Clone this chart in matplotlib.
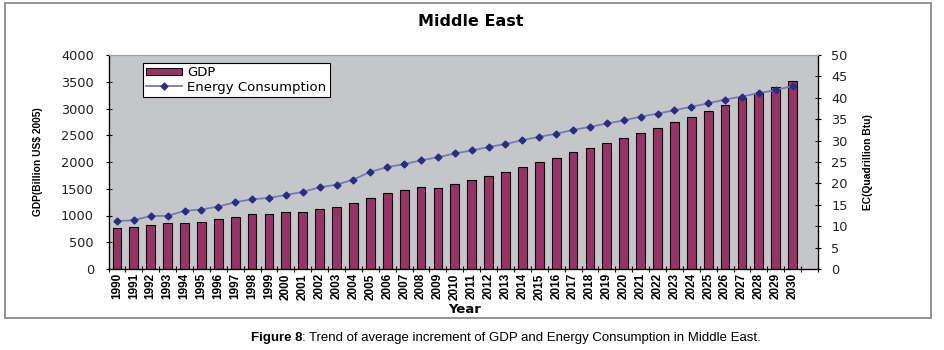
import matplotlib
matplotlib.use("Agg")
import matplotlib.pyplot as plt
from matplotlib.patches import Rectangle
import numpy as np

plt.rcParams['font.family'] = ['DejaVu Sans']
narrow = ['Liberation Sans Narrow', 'Liberation Sans', 'DejaVu Sans']

years = list(range(1990, 2031))
gdp = [772, 790, 816, 866, 854, 885, 941, 978, 1034, 1034,
       1072, 1072, 1128, 1165, 1240, 1333, 1427, 1477, 1539, 1520,
       1595, 1664, 1745, 1820, 1913, 2006, 2081, 2193, 2268, 2361,
       2455, 2548, 2642, 2754, 2847, 2959, 3065, 3190, 3283, 3396,
       3520]
energy = [11.2, 11.4, 12.4, 12.4, 13.6, 13.9, 14.6, 15.6, 16.3, 16.6,
          17.3, 18.0, 19.1, 19.7, 20.9, 22.7, 23.8, 24.5, 25.4, 26.1,
          27.0, 27.7, 28.5, 29.2, 30.1, 30.9, 31.6, 32.5, 33.2, 34.0,
          34.7, 35.6, 36.3, 37.1, 37.9, 38.7, 39.6, 40.3, 41.1, 41.8,
          42.8]

bar_color = '#993366'
line_color = '#7a7ab0'
marker_color = '#2b2b80'

fig = plt.figure(figsize=(9.44, 3.5), dpi=100)

# outer frame like the Excel chart area
fig.patches.append(Rectangle((5 / 944, 1 - 318 / 350), 926 / 944, 315 / 350,
                             transform=fig.transFigure, fill=False,
                             edgecolor='#808080', linewidth=1.2))

ax = fig.add_axes([108.5 / 944, 81 / 350, 709.5 / 944, 214 / 350])
ax.set_facecolor('#c5c6ca')
x = np.arange(len(years))
bars = ax.bar(x, gdp, width=0.52, color=bar_color, edgecolor='black', linewidth=0.8, zorder=2)
ax.set_xlim(-0.5, len(years) + 0.5)
ax.set_ylim(0, 4000)
ax.set_yticks(np.arange(0, 4001, 500))
ax.tick_params(axis='y', labelsize=9.3, length=5, direction='inout', width=0.8, pad=8,
               labelcolor='#222222')

ax.set_xticks(x)
ax.set_xticklabels([str(y) for y in years], rotation=90, fontsize=8.5, fontweight='bold',
                   family=narrow)
ax.set_xticks(np.arange(-0.5, len(years) + 1, 1), minor=True)
ax.tick_params(axis='x', which='major', length=0, pad=3)
ax.tick_params(axis='x', which='minor', length=5, direction='inout', width=0.8)

ax.spines['top'].set_color('#a0a0a0')
ax.spines['left'].set_linewidth(0.9)
ax.spines['bottom'].set_linewidth(0.9)

ax.set_xlabel('Year', fontsize=9.5, fontweight='bold')
ax.xaxis.set_label_coords(0.502, -0.16)
ax.set_ylabel('GDP(Billion US$ 2005)', fontsize=7.4, fontweight='bold', family=narrow)
ax.yaxis.set_label_coords(-0.093, 0.5)

ax2 = ax.twinx()
line, = ax2.plot(x, energy, color=line_color, linewidth=1.3, marker='D', markersize=3.5,
                 markerfacecolor=marker_color, markeredgecolor=marker_color, zorder=3)
ax2.set_ylim(0, 50)
ax2.set_yticks(np.arange(0, 51, 5))
ax2.tick_params(axis='y', labelsize=9.3, length=5, direction='inout', width=0.8, pad=7,
                labelcolor='#222222')
ax2.spines['right'].set_linewidth(0.9)
ax2.spines['top'].set_color('#a0a0a0')
ax2.set_ylabel('EC(Quadrillion Btu)', fontsize=7.4, fontweight='bold', family=narrow)
ax2.yaxis.set_label_coords(1.064, 0.5)

leg = ax2.legend([bars, line], ['GDP', 'Energy Consumption'], loc='upper left',
                 bbox_to_anchor=(0.0486, 0.963), fontsize=9.5, frameon=True, fancybox=False,
                 edgecolor='black', framealpha=1, borderpad=0.25, labelspacing=0.1,
                 handlelength=2.7, handleheight=0.5, handletextpad=0.4, borderaxespad=0)
leg.get_frame().set_linewidth(0.8)

fig.text(471 / 944, 1 - 22 / 350, 'Middle East', ha='center', va='center',
         fontsize=11.5, fontweight='bold')

fig.text(302 / 944, 1 - 338 / 350, 'Figure 8', ha='right', va='center',
         fontsize=9.5, fontweight='bold', family='Liberation Sans')
fig.text(302 / 944, 1 - 338 / 350, ': Trend of average increment of GDP and Energy Consumption in Middle East.',
         ha='left', va='center', fontsize=9.5, family='Liberation Sans')

fig.savefig('out.png', dpi=100)
